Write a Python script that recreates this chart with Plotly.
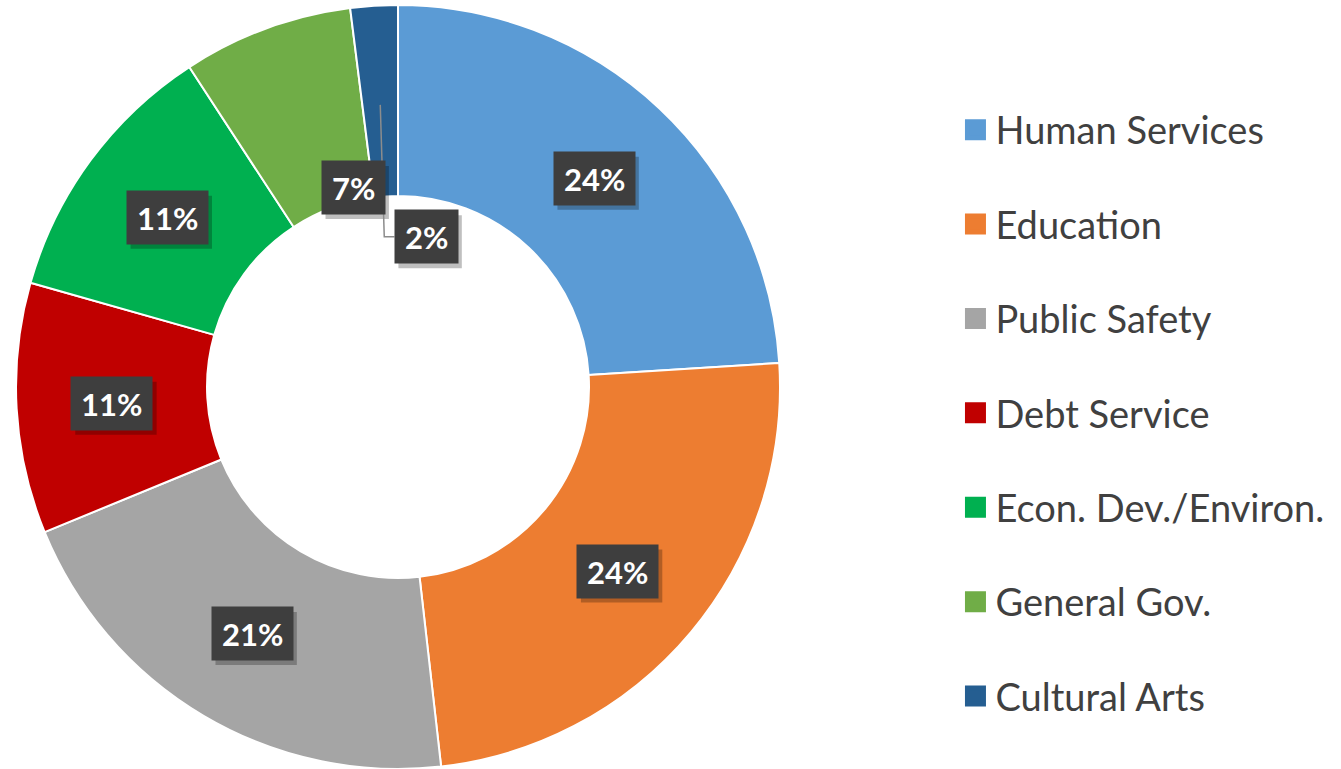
import math
import plotly.graph_objects as go

# ---- data ----
categories = ["Human Services", "Education", "Public Safety", "Debt Service",
              "Econ. Dev./Environ.", "General Gov.", "Cultural Arts"]
shares = [24.0, 24.2, 20.6, 10.6, 11.4, 7.2, 2.0]
colors = ["#5B9BD5", "#ED7D31", "#A5A5A5", "#C00000", "#00B050", "#70AD47", "#255E91"]

# label placement tweaks (angle offset in degrees from slice middle, radius fraction)
label_adjust = {"General Gov.": (7.5, 0.535), "Cultural Arts": (14.2, 0.40)}
leader_labels = ["Cultural Arts"]

W, H = 1341, 769
dom_x = [0.0119, 0.5817]
dom_y = [0.0, 0.9935]
HOLE = 0.5
LABEL_SIZE = 31
PAD = 10
BOX_H = 33 + 2 * PAD

fig = go.Figure()
fig.add_trace(go.Pie(
    labels=categories, values=shares, sort=False, direction="clockwise",
    rotation=0, hole=HOLE, textinfo="none",
    marker=dict(colors=colors, line=dict(color="white", width=2)),
    domain=dict(x=dom_x, y=dom_y), showlegend=False,
    hovertemplate="%{label}: %{percent}<extra></extra>",
))

# legend via dummy traces (one group each so the gap can be set)
for name, col in zip(categories, colors):
    fig.add_trace(go.Scatter(
        x=[None], y=[None], mode="markers", name=name, legendgroup=name,
        marker=dict(symbol="square", size=16, color=col, line=dict(color=col, width=5)),
    ))

# geometry of the pie in pixels
cx = (dom_x[0] + dom_x[1]) / 2 * W
cy = (1 - (dom_y[0] + dom_y[1]) / 2) * H
R = min((dom_x[1] - dom_x[0]) * W, (dom_y[1] - dom_y[0]) * H) / 2


def to_paper(theta_deg, frac):
    t = math.radians(theta_deg)
    px = cx + frac * R * math.sin(t)
    py = cy - frac * R * math.cos(t)
    return px / W, 1 - py / H


total = sum(shares)
cum = 0.0
annotations = []
shapes = []
ring_mid = (1 + HOLE) / 2
for name, v in zip(categories, shares):
    mid = (cum + v / 2) / total * 360
    cum += v
    d_ang, frac = label_adjust.get(name, (0.0, ring_mid))
    lx, ly = to_paper(mid + d_ang, frac)
    txt = f"{round(v / total * 100)}%"
    box_w = 2 * PAD + 0.58 * LABEL_SIZE * (len(txt) - 1) + 0.82 * LABEL_SIZE
    if name in leader_labels:
        sx, sy = to_paper(mid, ring_mid - 0.01)
        shapes.append(dict(
            type="path", xref="paper", yref="paper", layer="above",
            path=f"M {sx},{sy} L {sx + 4 / W},{ly} L {lx - box_w / 2 / W},{ly}",
            line=dict(color="#8C8C8C", width=1.5),
        ))
    # soft drop shadow behind the label box
    shapes.append(dict(
        type="rect", xref="paper", yref="paper", layer="above",
        x0=lx + (-box_w / 2 + 4) / W, x1=lx + (box_w / 2 + 4) / W,
        y0=ly + (-BOX_H / 2 - 5) / H, y1=ly + (BOX_H / 2 - 5) / H,
        fillcolor="rgba(0,0,0,0.25)", line=dict(width=0),
    ))
    annotations.append(dict(
        x=lx, y=ly, xref="paper", yref="paper", text=txt, showarrow=False,
        xanchor="center", yanchor="middle", height=33, borderpad=PAD,
        bgcolor="#3E3E3E",
        font=dict(family="Lato", size=LABEL_SIZE, color="white", weight="bold"),
    ))

fig.update_layout(
    width=W, height=H, margin=dict(l=0, r=0, t=0, b=0),
    paper_bgcolor="white", plot_bgcolor="white",
    xaxis=dict(visible=False), yaxis=dict(visible=False),
    showlegend=True,
    legend=dict(x=0.7125, y=0.872, xanchor="left", yanchor="top",
                font=dict(family="Lato", size=38, color="#404040"),
                tracegroupgap=42, itemclick=False, bgcolor="rgba(0,0,0,0)"),
    annotations=annotations, shapes=shapes,
)

fig.write_html("out.html", config={"displayModeBar": False},
               post_script="document.body.style.margin='0px';")
